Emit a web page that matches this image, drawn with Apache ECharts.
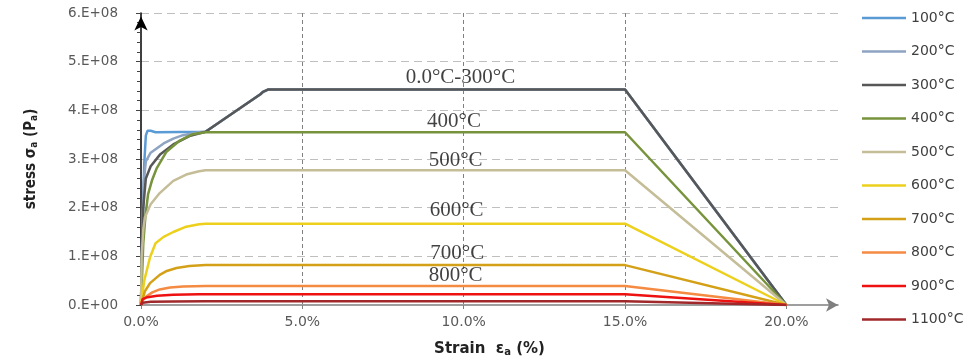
<!DOCTYPE html>
<html>
<head>
<meta charset="utf-8">
<script src="https://cdn.jsdelivr.net/npm/echarts@6/dist/echarts.min.js"></script>
<style>html,body{margin:0;padding:0;background:#fff}#c{width:979px;height:362px}</style>
</head>
<body>
<div id="c"></div>
<script>
// ---- data (strain in %, stress in Pa) ----
const seriesNames = ['100°C','200°C','300°C','400°C','500°C','600°C','700°C','800°C','900°C','1100°C'];
const s100 = [[0,0],[0.05,1.6e8],[0.1,2.9e8],[0.15,3.48e8],[0.2,3.58e8],[0.3,3.58e8],[0.45,3.55e8],[2.0,3.56e8],[3.7,4.33e8],[3.78,4.38e8],[3.95,4.43e8],[15,4.43e8],[20,0]];
const s200 = [[0,0],[0.04,1.5e8],[0.08,2.5e8],[0.15,2.95e8],[0.3,3.13e8],[0.7,3.32e8],[1.0,3.42e8],[1.3,3.49e8],[1.8,3.55e8],[2.0,3.56e8],[3.7,4.33e8],[3.78,4.38e8],[3.95,4.43e8],[15,4.43e8],[20,0]];
const s300 = [[0,0],[0.03,1.2e8],[0.07,2.0e8],[0.15,2.6e8],[0.3,2.85e8],[0.6,3.1e8],[1.0,3.3e8],[1.5,3.47e8],[2.0,3.56e8],[3.7,4.33e8],[3.78,4.38e8],[3.95,4.43e8],[15,4.43e8],[20,0]];
const s400 = [[0,0],[0.07,1.26e8],[0.14,1.85e8],[0.22,2.28e8],[0.35,2.58e8],[0.48,2.8e8],[0.79,3.15e8],[1.2,3.38e8],[1.6,3.51e8],[2.0,3.55e8],[15,3.55e8],[20,0]];
const s500 = [[0,0],[0.02,1.0e8],[0.07,1.55e8],[0.12,1.8e8],[0.3,2.07e8],[0.58,2.3e8],[1.0,2.55e8],[1.4,2.68e8],[1.8,2.75e8],[2.0,2.77e8],[15,2.77e8],[20,0]];
const s600 = [[0,0],[0.1,0.5e8],[0.28,0.98e8],[0.45,1.27e8],[0.7,1.4e8],[1.0,1.5e8],[1.4,1.61e8],[1.8,1.66e8],[2.0,1.67e8],[15,1.67e8],[20,0]];
const s700 = [[0,0],[0.12,0.28e8],[0.28,0.45e8],[0.58,0.62e8],[0.8,0.7e8],[1.1,0.76e8],[1.5,0.8e8],[2.0,0.82e8],[15,0.82e8],[20,0]];
const s800 = [[0,0],[0.06,0.1e8],[0.17,0.18e8],[0.35,0.26e8],[0.58,0.32e8],[0.9,0.36e8],[1.3,0.38e8],[2.0,0.39e8],[15,0.39e8],[20,0]];
const s900 = [[0,0],[0.05,0.12e8],[0.2,0.16e8],[0.5,0.19e8],[1.0,0.21e8],[1.8,0.22e8],[15,0.22e8],[20,0]];
const s1100 = [[0,0],[0.05,0.045e8],[0.3,0.065e8],[1.0,0.072e8],[2.0,0.075e8],[15,0.075e8],[20,0]];
const seriesData = [s100,s200,s300,s400,s500,s600,s700,s800,s900,s1100];
const seriesColors = ['#5B9BD5','#8EA4C2','#575757','#77933C','#C4BD97','#EDD01C','#D4A017','#F58A42','#EE1111','#A0282A'];
// annotation labels [strain %, stress Pa, text]
const annotX = [9.9, 9.7, 9.75, 9.78, 9.8, 9.75];
const annotY = [4.68e8, 3.77e8, 2.96e8, 1.95e8, 1.05e8, 0.61e8];
const annotText = ['0.0°C-300°C','400°C','500°C','600°C','700°C','800°C'];
const xTicks = [0,5,10,15,20];

const chart = echarts.init(document.getElementById('c'), null, {renderer:'canvas'});
const lineSeries = seriesNames.map((n,i)=>({
  name:n, type:'line', data:seriesData[i], symbol:'none', smooth:false,
  lineStyle:{width:2.5,color:seriesColors[i]}, itemStyle:{color:seriesColors[i]},
  z: 2+i, silent:true
}));
const annotSeries = {
  type:'scatter', name:'annot', silent:true, symbolSize:1,
  itemStyle:{color:'rgba(0,0,0,0)'},
  data: annotText.map((t,i)=>({value:[annotX[i],annotY[i]], label:{formatter:t}})),
  label:{show:true, position:'inside', color:'#111', fontFamily:'Liberation Serif, Times New Roman, serif', fontSize:21},
  z:20
};
chart.setOption({
  animation:false,
  grid:{left:141,right:141,top:13,bottom:53,containLabel:false},
  legend:{
    data:seriesNames, orient:'vertical', left:857, top:6, height:350,
    icon:'path://M0,0 L44,0 L44,2.6 L0,2.6 Z',
    itemWidth:44, itemHeight:14, itemGap:19.5,
    textStyle:{fontFamily:'DejaVu Sans, Verdana, sans-serif', fontSize:14, color:'#404040'}
  },
  xAxis:{
    type:'value', min:0, max:21.6, interval:5,
    axisLine:{show:true, symbol:['none','arrow'], symbolSize:[10,12], lineStyle:{color:'#7f7f7f',width:1.5}},
    axisTick:{show:true, length:4, customValues:xTicks, lineStyle:{color:'#7f7f7f'}},
    axisLabel:{customValues:xTicks, formatter:v=>v.toFixed(1)+'%', margin:10, fontFamily:'DejaVu Sans, Verdana, sans-serif', fontSize:14, color:'#595959'},
    splitLine:{show:true, showMinLine:false, showMaxLine:false, lineStyle:{color:'#808080', type:[4,3], width:1}},
    name:'Strain  ε{sub|a} (%)', nameLocation:'middle', nameGap:36,
    nameTextStyle:{fontFamily:'DejaVu Sans, sans-serif', fontWeight:'bold', fontSize:15, color:'#222',
      rich:{sub:{fontSize:10, fontWeight:'bold', verticalAlign:'bottom', padding:[6,0,0,0], color:'#222'}}}
  },
  yAxis:{
    type:'value', min:0, max:6e8, interval:1e8,
    axisLine:{show:true, symbol:['none','arrow'], symbolSize:[10,14], symbolOffset:[0,-3.5], lineStyle:{color:'#000',width:1.5}},
    axisTick:{show:true, length:5, lineStyle:{color:'#444'}},
    minorTick:{show:true, splitNumber:5, length:4, lineStyle:{color:'#444'}},
    axisLabel:{formatter:v=> v===0 ? '0.E+00' : Math.round(v/1e8)+'.E+08', margin:23, fontFamily:'DejaVu Sans, Verdana, sans-serif', fontSize:13.5, color:'#595959'},
    splitLine:{show:true, showMinLine:false, lineStyle:{color:'#BFBFBF', type:[8,5], width:1.2}},
    name:'stress σ{sub|a} (P{sub|a})', nameLocation:'middle', nameGap:102,
    nameTextStyle:{fontFamily:'DejaVu Sans Condensed, DejaVu Sans, sans-serif', fontWeight:'bold', fontSize:15, color:'#222',
      rich:{sub:{fontSize:10, fontWeight:'bold', color:'#222', padding:[6,0,0,0]}}}
  },
  series: lineSeries.concat([annotSeries])
});
</script>
</body>
</html>
